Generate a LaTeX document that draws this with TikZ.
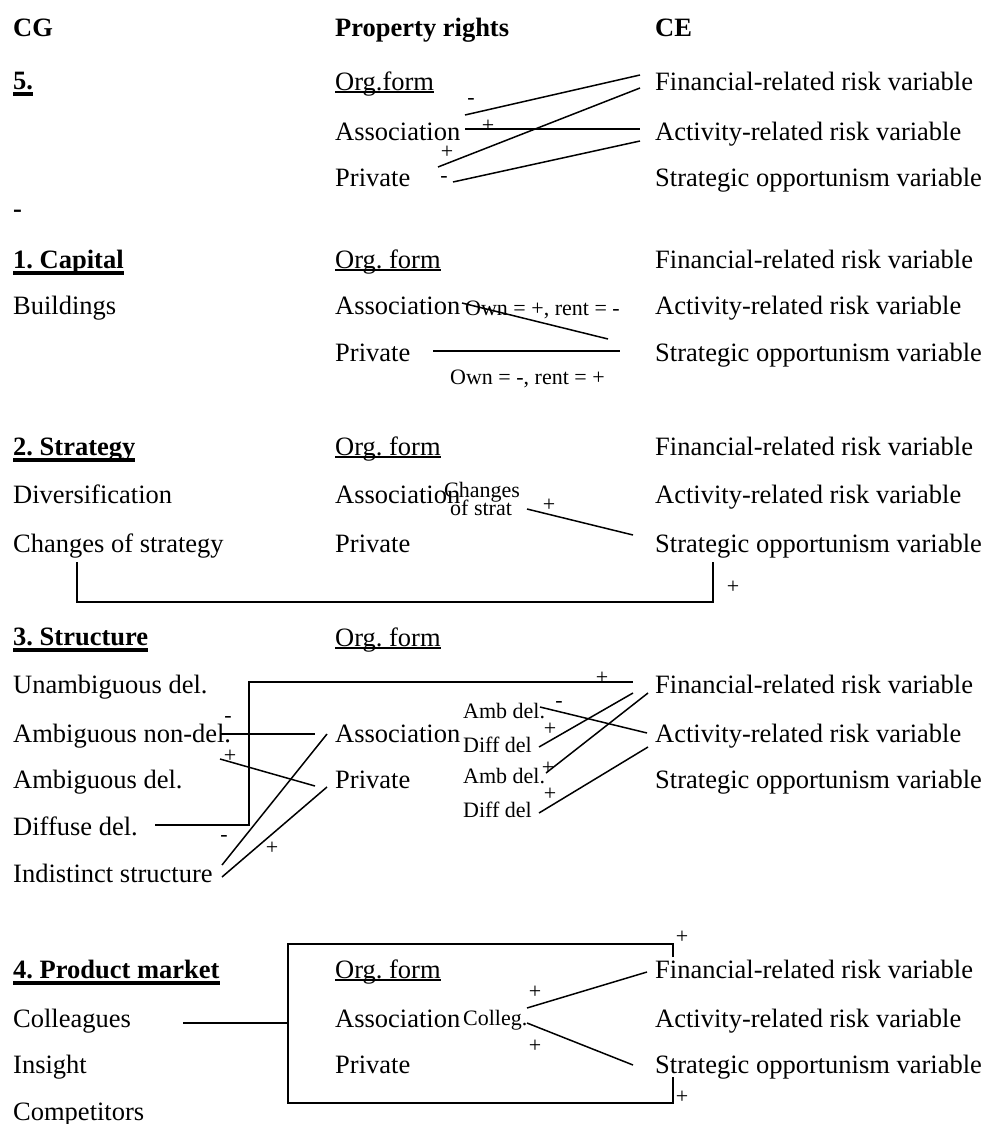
\documentclass[tikz,border=0pt]{standalone}
\usepackage{fontspec}
\setmainfont{Liberation Serif}
\frenchspacing
\newcommand\mainf{\fontsize{26.5pt}{30pt}\selectfont}
\newcommand\smf{\fontsize{22pt}{24pt}\selectfont}
\newlength\mywd
\newcommand\ulbold[1]{\settowidth\mywd{#1}\rlap{\rule[-0.25em]{\mywd}{0.12em}}#1}
\newcommand\ulreg[1]{\settowidth\mywd{#1}\rlap{\rule[-0.11em]{\mywd}{0.065em}}#1}
\tikzset{
  txt/.style={anchor=base west, inner sep=0pt, font=\mainf},
  hd/.style={anchor=base west, inner sep=0pt, font=\mainf\bfseries},
  sm/.style={anchor=base west, inner sep=0pt, font=\smf},
  lbl/.style={inner sep=0pt, font=\smf},
  ln/.style={line width=1.5pt},
}
\begin{document}
\begin{tikzpicture}[x=1pt,y=-1pt]
\useasboundingbox (0,0) rectangle (989,1124);
% headers
\node[hd] (hcg) at (13,37) {CG};
\node[hd] (hpr) at (335,37) {Property rights};
\node[hd] (hce) at (655,37) {CE};

% ---------------- section 5
\node[hd] (s5h) at (13,89) {\ulbold{5.}};
\node[txt] (s5o) at (335,90) {\ulreg{Org.form}};
\node[txt] (s5a) at (335,140) {Association};
\node[txt] (s5p) at (335,186) {Private};
\node[txt] (s5f) at (655,90) {Financial-related risk variable};
\node[txt] (s5c) at (655,140) {Activity-related risk variable};
\node[txt] (s5s) at (655,186) {Strategic opportunism variable};
\node[hd] (dash) at (13,217) {-};
\coordinate (a1) at (465,115); \coordinate (b1) at (640,75);
\coordinate (a2) at (465,129); \coordinate (b2) at (640,129);
\coordinate (a3) at (438,167); \coordinate (b3) at (640,88);
\coordinate (a4) at (453,182); \coordinate (b4) at (640,141);
\draw[ln] (a1) -- (b1);
\draw[ln] (a2) -- (b2);
\draw[ln] (a3) -- (b3);
\draw[ln] (a4) -- (b4);
\node[lbl] (l1) at (471,101) {-};
\node[lbl] (l2) at (488,126) {+};
\node[lbl] (l3) at (447,152) {+};
\node[lbl] (l4) at (444,179) {-};

% ---------------- section 1
\node[hd] (s1h) at (13,268) {\ulbold{1. Capital}};
\node[txt] (s1b) at (13,314) {Buildings};
\node[txt] (s1o) at (335,268) {\ulreg{Org. form}};
\node[txt] (s1a) at (335,314) {Association};
\node[txt] (s1p) at (335,361) {Private};
\node[txt] (s1f) at (655,268) {Financial-related risk variable};
\node[txt] (s1c) at (655,314) {Activity-related risk variable};
\node[txt] (s1s) at (655,361) {Strategic opportunism variable};
\node[sm] (own1) at (465,315) {Own = +, rent = -};
\node[sm] (own2) at (450,384) {Own = -, rent = +};
\coordinate (a5) at (462,303); \coordinate (b5) at (608,339);
\coordinate (a6) at (433,351); \coordinate (b6) at (620,351);
\draw[ln] (a5) -- (b5);
\draw[ln] (a6) -- (b6);

% ---------------- section 2
\node[hd] (s2h) at (13,455) {\ulbold{2. Strategy}};
\node[txt] (s2d) at (13,503) {Diversification};
\node[txt] (s2c) at (13,552) {Changes of strategy};
\node[txt] (s2o) at (335,455) {\ulreg{Org. form}};
\node[txt] (s2a) at (335,503) {Association};
\node[txt] (s2p) at (335,552) {Private};
\node[txt] (s2f) at (655,455) {Financial-related risk variable};
\node[txt] (s2v) at (655,503) {Activity-related risk variable};
\node[txt] (s2s) at (655,552) {Strategic opportunism variable};
\node[sm, anchor=base] (chg) at (482,497) {Changes};
\node[sm] (ofs) at (450,515) {of strat};
\coordinate (a7) at (527,509); \coordinate (b7) at (633,535);
\draw[ln] (a7) -- (b7);
\node[lbl] (l7) at (549,505) {+};
\coordinate (k1) at (77,562); \coordinate (k2) at (713,562);
\draw[ln] (k1) -- (77,602) -- (713,602) -- (k2);
\node[lbl] (l8) at (733,587) {+};

% ---------------- section 3
\node[hd] (s3h) at (13,645) {\ulbold{3. Structure}};
\node[txt] (s3u) at (13,693) {Unambiguous del.};
\node[txt] (s3an) at (13,742) {Ambiguous non-del.};
\node[txt] (s3ad) at (13,788) {Ambiguous del.};
\node[txt] (s3df) at (13,835) {Diffuse del.};
\node[txt] (s3in) at (13,882) {Indistinct structure};
\node[txt] (s3o) at (335,646) {\ulreg{Org. form}};
\node[txt] (s3a) at (335,742) {Association};
\node[txt] (s3p) at (335,788) {Private};
\node[txt] (s3f) at (655,693) {Financial-related risk variable};
\node[txt] (s3c) at (655,742) {Activity-related risk variable};
\node[txt] (s3s) at (655,788) {Strategic opportunism variable};
\node[sm] (am1) at (463,718) {Amb del.};
\node[sm] (df1) at (463,752) {Diff del};
\node[sm] (am2) at (463,783) {Amb del.};
\node[sm] (df2) at (463,817) {Diff del};
% bracket from Diffuse del. to Financial
\coordinate (c1) at (155,825); \coordinate (c2) at (633,682);
\draw[ln] (c1) -- (249,825) -- (249,682) -- (c2);
\node[lbl] (l9) at (602,678) {+};
\coordinate (a8) at (220,734); \coordinate (b8) at (315,734);
\coordinate (a9) at (220,759); \coordinate (b9) at (315,786);
\coordinate (a10) at (222,865); \coordinate (b10) at (327,734);
\coordinate (a11) at (222,877); \coordinate (b11) at (327,787);
\draw[ln] (a8) -- (b8);
\draw[ln] (a9) -- (b9);
\draw[ln] (a10) -- (b10);
\draw[ln] (a11) -- (b11);
\node[lbl] (l10) at (228,719) {-};
\node[lbl] (l11) at (230,756) {+};
\node[lbl] (l12) at (224,838) {-};
\node[lbl] (l13) at (272,848) {+};
\coordinate (a12) at (540,707); \coordinate (b12) at (647,733);
\coordinate (a13) at (539,747); \coordinate (b13) at (633,693);
\coordinate (a14) at (546,773); \coordinate (b14) at (648,693);
\coordinate (a15) at (539,813); \coordinate (b15) at (648,747);
\draw[ln] (a12) -- (b12);
\draw[ln] (a13) -- (b13);
\draw[ln] (a14) -- (b14);
\draw[ln] (a15) -- (b15);
\node[lbl] (l14) at (559,704) {-};
\node[lbl] (l15) at (550,729) {+};
\node[lbl] (l16) at (548,768) {+};
\node[lbl] (l17) at (550,794) {+};

% ---------------- section 4
\node[hd] (s4h) at (13,978) {\ulbold{4. Product market}};
\node[txt] (s4c) at (13,1027) {Colleagues};
\node[txt] (s4i) at (13,1073) {Insight};
\node[txt] (s4k) at (13,1120) {Competitors};
\node[txt] (s4o) at (335,978) {\ulreg{Org. form}};
\node[txt] (s4a) at (335,1027) {Association};
\node[txt] (s4p) at (335,1073) {Private};
\node[txt] (s4f) at (655,978) {Financial-related risk variable};
\node[txt] (s4v) at (655,1027) {Activity-related risk variable};
\node[txt] (s4s) at (655,1073) {Strategic opportunism variable};
\node[sm] (colg) at (463,1025) {Colleg.};
% open box: left, top, bottom sides, short ticks on the right
\coordinate (t1) at (673,957); \coordinate (t2) at (673,1077);
\draw[ln] (t1) -- (673,944) -- (288,944) -- (288,1103) -- (673,1103) -- (t2);
\coordinate (e1) at (183,1023); \coordinate (e2) at (288,1023);
\draw[ln] (e1) -- (e2);
\node[lbl] (l18) at (682,937) {+};
\node[lbl] (l19) at (682,1097) {+};
\coordinate (a16) at (527,1008); \coordinate (b16) at (647,972);
\coordinate (a17) at (527,1023); \coordinate (b17) at (633,1065);
\draw[ln] (a16) -- (b16);
\draw[ln] (a17) -- (b17);
\node[lbl] (l20) at (535,992) {+};
\node[lbl] (l21) at (535,1046) {+};
\end{tikzpicture}
\end{document}
